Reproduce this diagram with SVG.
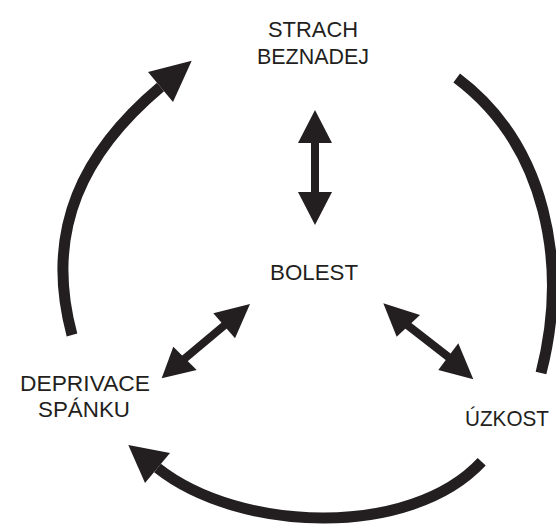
<svg xmlns="http://www.w3.org/2000/svg" width="556" height="527" viewBox="0 0 556 527">
<style>
.lbl{font-family:"Liberation Sans","DejaVu Sans",sans-serif;font-size:22.5px;fill:#231f20}
.arc{fill:none;stroke:#231f20;stroke-width:11;stroke-linecap:butt}
.shaft{fill:none;stroke:#231f20;stroke-width:8}
.head{fill:#231f20}
</style>
<rect width="556" height="527" fill="#ffffff"/>
<g id="strach">
<text class="lbl" x="313" y="37" text-anchor="middle" textLength="90" lengthAdjust="spacingAndGlyphs">STRACH</text>
<text class="lbl" x="313" y="64" text-anchor="middle" textLength="112" lengthAdjust="spacingAndGlyphs">BEZNADEJ</text>
</g>
<g id="bolest">
<text class="lbl" x="314" y="280" text-anchor="middle" textLength="88" lengthAdjust="spacingAndGlyphs">BOLEST</text>
</g>
<g id="deprivace">
<text class="lbl" x="85" y="391" text-anchor="middle" textLength="130" lengthAdjust="spacingAndGlyphs">DEPRIVACE</text>
<text class="lbl" x="84" y="417" text-anchor="middle" textLength="92" lengthAdjust="spacingAndGlyphs">SPÁNKU</text>
</g>
<g id="uzkost">
<text class="lbl" x="465" y="426" textLength="84" lengthAdjust="spacingAndGlyphs">ÚZKOST</text>
</g>
<g id="connectors">
<path class="arc" d="M72,335 C43.4,228.9 84.5,151 160.5,87"/>
<polygon class="head" points="191.7,60.7 148,72 173,102"/>
<path class="arc" d="M456.7,78 C546.1,145 569,264.4 541,373"/>
<path class="arc" d="M481.7,461.7 C410.3,538.4 240,533 157.5,468"/>
<polygon class="head" points="128.3,445 170,453 145,483"/>
<line class="shaft" x1="315" y1="140" x2="315" y2="195"/>
<polygon class="head" points="315,110 298,143 332,143"/>
<polygon class="head" points="315,225 298,192 332,192"/>
<line class="shaft" x1="226" y1="324" x2="183" y2="360"/>
<polygon class="head" points="250,304 213.3,313.3 235,338.3"/>
<polygon class="head" points="161.7,378.3 173.3,346.7 196.7,370"/>
<line class="shaft" x1="406" y1="324" x2="451" y2="359"/>
<polygon class="head" points="383.3,303.3 420,315 396.7,336.7"/>
<polygon class="head" points="473.3,379.3 458.3,343.3 438.3,370"/>
</g>
</svg>
